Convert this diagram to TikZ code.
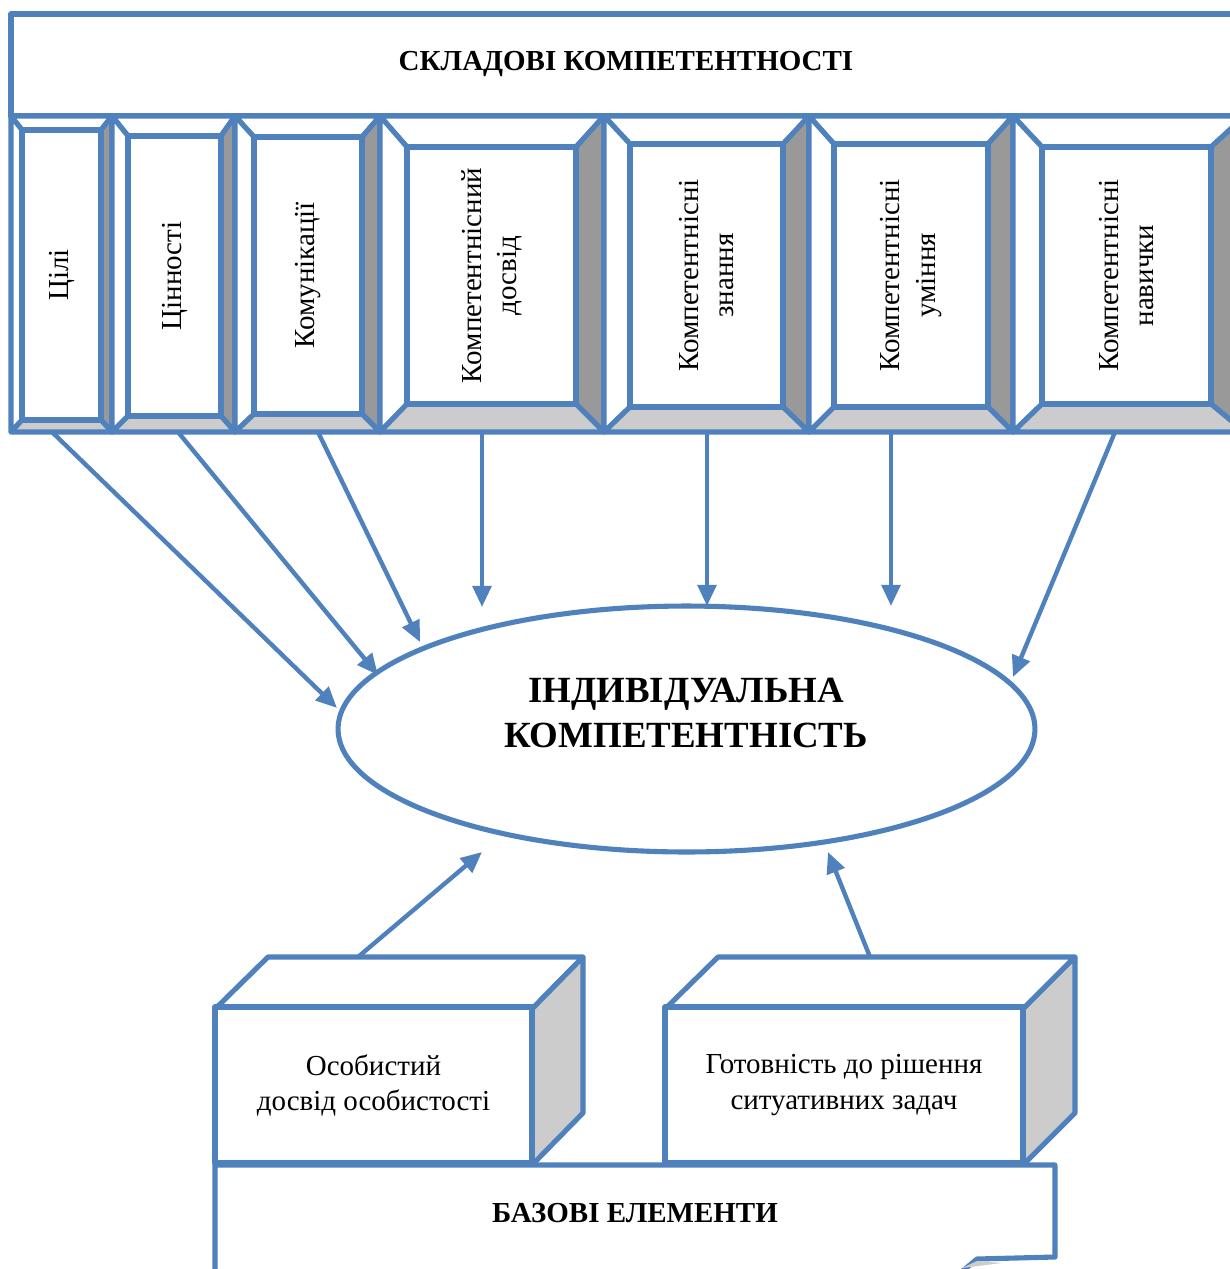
\documentclass[tikz,border=0pt]{standalone}
\usepackage{fontspec}
\setmainfont{Liberation Serif}
\usetikzlibrary{arrows.meta,shapes.geometric}
\definecolor{wordblue}{HTML}{4F81BD}
\definecolor{darkband}{HTML}{999999}
\definecolor{lightband}{HTML}{CCCCCC}

\begin{document}
\begin{tikzpicture}[x=0.02cm, y=-0.02cm,
        frame/.style={draw=wordblue, line width=2.9pt, line join=round},
        arr/.style={draw=wordblue, line width=2.5pt, -{Triangle[length=12pt,width=10.5pt]}},
        lbl/.style={font=\fontsize{16.5}{20}\selectfont, align=center},
        bold/.style={font=\fontsize{16.5}{20}\selectfont\bfseries, align=center}]
        \useasboundingbox (0,0) rectangle (1230,1269);
        \clip (0,0) rectangle (1230,1269);

        % top strip
        \draw[frame, fill=white] (11,14) rectangle (1250,116);
        \node[bold] (top) at (626,64) {СКЛАДОВІ КОМПЕТЕНТНОСТІ};

        % bevels: outer x, outer x, inner box, arrow start, text
        \foreach \xa/\xb/\ia/\ja/\ib/\jb/\sx/\txt [count=\i] in {
                11/112/22/130/101/420/52/{Цілі},
                112/235/128/136/221/416/178/{Цінності},
                235/380/254/137/362/414/318/{Комунікації},
                380/604/407/147/576/404/482/{Компетентнісний\\досвід},
                604/809/630/144/783/407/707/{Компетентнісні\\знання},
                809/1013/834/144/988/407/891/{Компетентнісні\\уміння},
                1013/1245/1042/147/1211/404/1115/{Компетентнісні\\навички}}
        {
            \draw[frame, fill=white] (\xa,116) -- (\xb,116) -- (\ib,\ja) -- (\ia,\ja) -- cycle;
            \draw[frame, fill=white] (\xa,116) -- (\ia,\ja) -- (\ia,\jb) -- (\xa,432) -- cycle;
            \draw[frame, fill=darkband] (\xb,116) -- (\xb,432) -- (\ib,\jb) -- (\ib,\ja) -- cycle;
            \draw[frame, fill=lightband] (\xa,432) -- (\xb,432) -- (\ib,\jb) -- (\ia,\jb) -- cycle;
            \draw[frame, fill=white] (\ia,\ja) rectangle (\ib,\jb);
            \node[lbl, rotate=90] (b\i) at ({(\ia+\ib)/2},{(\ja+\jb)/2}) {\txt};
            \coordinate (s\i) at (\sx,432);
        }

        % centre
        \node[frame, ellipse, minimum width=13.94cm, minimum height=4.92cm] (ell) at (686.5,729) {};
        \node[font=\fontsize{21}{25.5}\selectfont\bfseries, align=center] (ind) at (686,713) {ІНДИВІДУАЛЬНА\\КОМПЕТЕНТНІСТЬ};

        \coordinate (t1) at (337,708);
        \coordinate (t2) at (378,675);
        \coordinate (t3) at (420,642);
        \coordinate (t4) at (482,607);
        \coordinate (t5) at (707,606);
        \coordinate (t6) at (891,606);
        \coordinate (t7) at (1013,677);
        \draw[arr] (s1) -- (t1);
        \draw[arr] (s2) -- (t2);
        \draw[arr] (s3) -- (t3);
        \draw[arr] (s4) -- (t4);
        \draw[arr] (s5) -- (t5);
        \draw[arr] (s6) -- (t6);
        \draw[arr] (s7) -- (t7);

        % cubes
        \draw[frame, fill=white] (215,1009) -- (268,957) -- (583,957) -- (532,1009) -- cycle;
        \draw[frame, fill=lightband] (532,1009) -- (583,957) -- (583,1113) -- (532,1165) -- cycle;
        \node[frame, fill=white, lbl, minimum width=6.34cm, minimum height=3.12cm] (own) at (373.5,1085) {Особистий\\досвід особистості};

        \draw[frame, fill=white] (665,1009) -- (718,957) -- (1075,957) -- (1023,1009) -- cycle;
        \draw[frame, fill=lightband] (1023,1009) -- (1075,957) -- (1075,1113) -- (1023,1165) -- cycle;
        \node[frame, fill=white, lbl, minimum width=7.16cm, minimum height=3.12cm] (ready) at (844,1085) {Готовність до рішення\\ситуативних задач};

        \coordinate (c1) at (358,957);
        \coordinate (c2) at (870,957);
        \coordinate (u1) at (482,852);
        \coordinate (u2) at (828,852);
        \draw[arr] (c1) -- (u1);
        \draw[arr] (c2) -- (u2);

        % base
        \draw[frame, fill=white] (215,1290) -- (215,1165) -- (1055,1165) -- (1055,1257) -- (977,1259) -- (940,1290);
        \fill[lightband] (977,1261) -- (1002,1263) -- (962,1268) -- cycle;
        \node[bold] (base) at (635,1213) {БАЗОВІ ЕЛЕМЕНТИ};
    \end{tikzpicture}
\end{document}
